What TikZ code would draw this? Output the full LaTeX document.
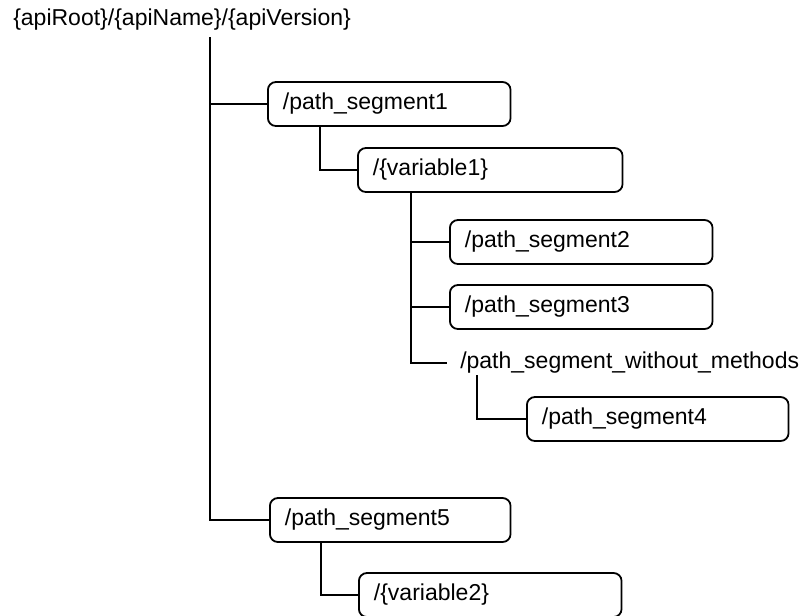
\documentclass[tikz,border=0pt]{standalone}
\usepackage{fontspec}
\setmainfont{Liberation Sans}
\usetikzlibrary{calc}

\begin{document}
\begin{tikzpicture}[x=0.75pt,y=-0.75pt,
  seg/.style={draw,rounded corners=6pt,line width=1.35pt,anchor=west,
    minimum height=33pt,inner xsep=11.25pt,text width=#1,align=left,
    font=\fontsize{17.25}{20}\selectfont},
  label/.style={anchor=west,inner ysep=1pt,font=\fontsize{17.25}{20}\selectfont},
  link/.style={line width=1.35pt}]
\clip (0,0) rectangle (805,615);

% Draw root path
\node[label,inner xsep=0pt] (root) at (13,20) {\{apiRoot\}/\{apiName\}/\{apiVersion\}};
\coordinate (trunk) at (210,37);

% Draw resources
\node[seg=159.5pt] (ps1) at (267,104) {/path\_segment1};
\node[seg=176pt] (var1) at (357,170) {/\{variable1\}};
\node[seg=174.5pt] (ps2) at (449,242) {/path\_segment2};
\node[seg=174.5pt] (ps3) at (449,307) {/path\_segment3};
\node[label,inner xsep=9.75pt] (nometh) at (447,363) {/path\_segment\_without\_methods};
\node[seg=173.75pt] (ps4) at (526,419) {/path\_segment4};
\node[seg=158pt] (ps5) at (269,520) {/path\_segment5};
\node[seg=174.5pt] (var2) at (358,595) {/\{variable2\}};

% Draw connections
\draw[link] (trunk) |- (ps1.west);
\draw[link] (trunk) |- (ps5.west);
\draw[link] ($(ps1.south west)+(53,0)$) |- (var1.west);
\draw[link] ($(var1.south west)+(54,0)$) |- (ps2.west);
\draw[link] ($(var1.south west)+(54,0)$) |- (ps3.west);
\draw[link] ($(var1.south west)+(54,0)$) |- (nometh.west);
\draw[link] ($(nometh.south west)+(30,0)$) |- (ps4.west);
\draw[link] ($(ps5.south west)+(52,0)$) |- (var2.west);
\end{tikzpicture}
\end{document}
